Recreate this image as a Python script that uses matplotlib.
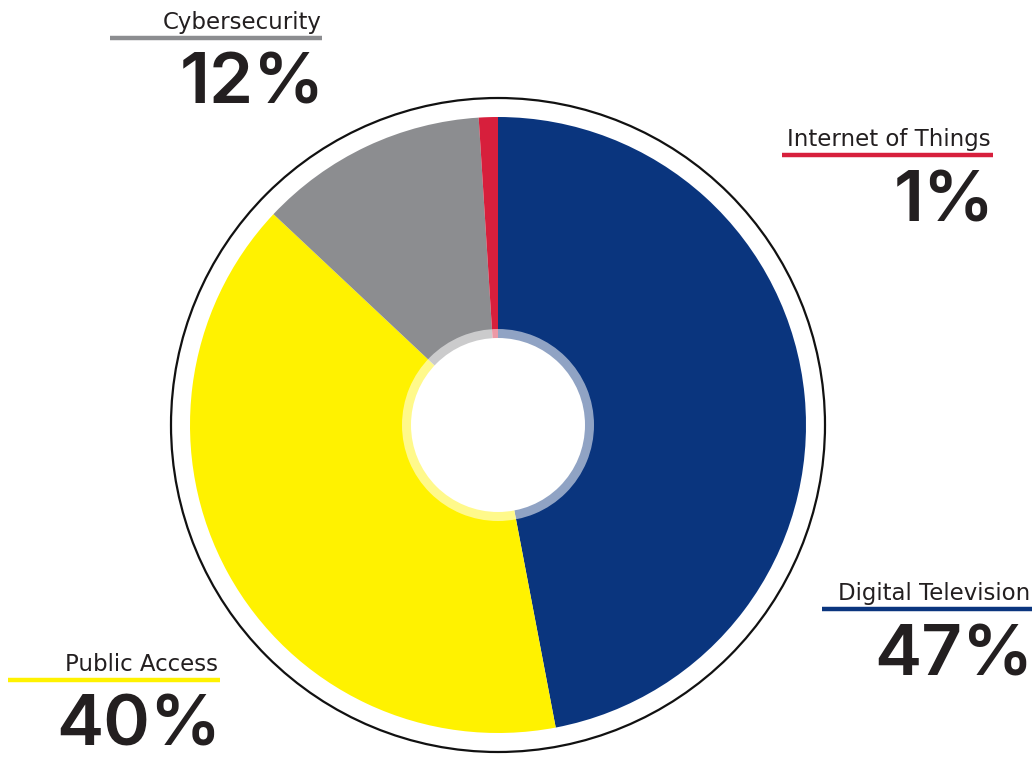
import matplotlib
matplotlib.use("Agg")
import matplotlib.pyplot as plt
from matplotlib.patches import Circle, Wedge

categories = ["Digital Television", "Public Access", "Cybersecurity", "Internet of Things"]
values = [47, 40, 12, 1]
labels_pct = ["47%", "40%", "12%", "1%"]
colors = ["#0A357E", "#FFF200", "#8C8D90", "#D71F3C"]

W, H = 1036, 760
fig = plt.figure(figsize=(W / 100, H / 100), dpi=100)
ax = fig.add_axes([0, 0, 1, 1])

def Y(y):
    return H - y

cx, cy = 498, Y(425)
R = 308

ax.add_patch(Circle((cx, cy), 327, fill=False, ec="#111111", lw=1.6, zorder=1))
ax.pie(values, colors=colors, startangle=90, counterclock=False, center=(cx, cy),
       radius=R, wedgeprops=dict(linewidth=0), frame=True)
ax.set_xlim(0, W)
ax.set_ylim(0, H)
ax.set_aspect("equal")
ax.axis("off")

ax.add_patch(Wedge((cx, cy), 96, 0, 360, width=10, fc="white", alpha=0.55, ec="none", zorder=5))
ax.add_patch(Circle((cx, cy), 87, fc="white", ec="none", zorder=6))

txt = "#231F20"
lab_font = ["DejaVu Sans"]
pct_font = ["Inter", "DejaVu Sans"]
# name: (line x0, line x1, line y, text right x, pct right x)
layout = {
    "Cybersecurity": (110, 322, 38, 322, 320),
    "Internet of Things": (782, 993, 155, 991, 990),
    "Digital Television": (822, 1032, 609, 1030, 1028),
    "Public Access": (8, 220, 680, 218, 216),
}
for name, pct, col in zip(categories, labels_pct, colors):
    x0, x1, ly, tx, px = layout[name]
    ax.plot([x0, x1], [Y(ly), Y(ly)], color=col, lw=3.2, solid_capstyle="butt", zorder=3)
    ax.text(tx, Y(ly) + 9, name, ha="right", va="baseline", fontsize=16.5,
            family=lab_font, color=txt, zorder=4)
    ax.text(px + 5, Y(ly) - 66, pct, ha="right", va="baseline", fontsize=51,
            family=pct_font, weight="semibold", color=txt, zorder=4)

fig.savefig("out.png", dpi=100, facecolor="white")
